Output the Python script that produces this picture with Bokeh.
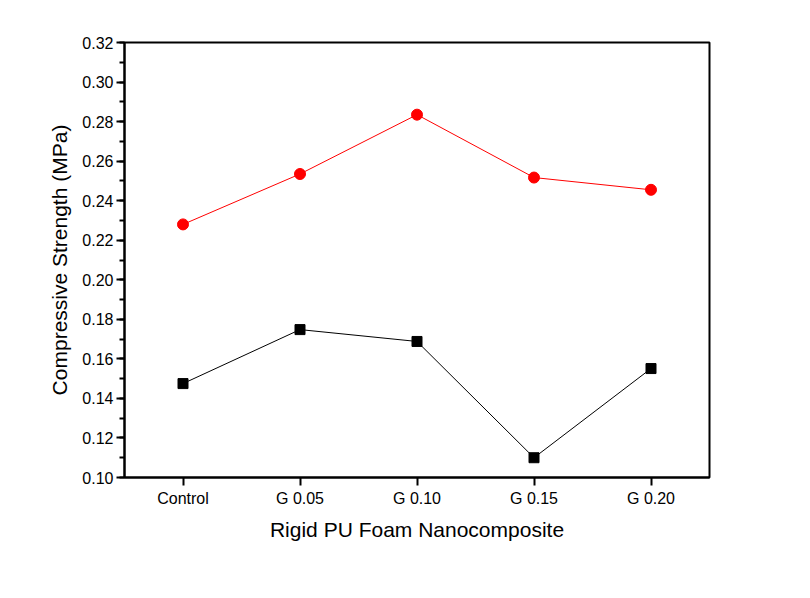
from bokeh.plotting import figure
from bokeh.models import FixedTicker, SingleIntervalTicker, NumeralTickFormatter, Range1d
from bokeh.embed import file_html
from bokeh.resources import INLINE

categories = ["Control", "G 0.05", "G 0.10", "G 0.15", "G 0.20"]
series_red = [0.228, 0.2535, 0.2835, 0.2517, 0.2455]
series_black = [0.1475, 0.1748, 0.1688, 0.110, 0.1551]
y_ticks = [0.10, 0.12, 0.14, 0.16, 0.18, 0.20, 0.22, 0.24, 0.26, 0.28, 0.30, 0.32]

xs = list(range(1, len(categories) + 1))

p = figure(width=810, height=598, output_backend="svg", toolbar_location=None,
           x_range=Range1d(0.5, 5.5), y_range=Range1d(0.10, 0.32),
           min_border_left=124, min_border_right=101, min_border_top=42, min_border_bottom=121)
p.grid.visible = False
p.outline_line_color = "black"
p.outline_line_width = 2
p.background_fill_color = "white"
p.border_fill_color = "white"

p.line(xs, series_black, line_color="black", line_width=1)
p.scatter(xs, series_black, marker="square", size=10, fill_color="black", line_color="black")
p.line(xs, series_red, line_color="red", line_width=1)
p.scatter(xs, series_red, marker="circle", size=11, fill_color="red", line_color="red")

font = "Liberation Sans"
p.xaxis.ticker = FixedTicker(ticks=xs)
p.xaxis.major_label_overrides = {x: c for x, c in zip(xs, categories)}
p.yaxis.ticker = SingleIntervalTicker(interval=0.02, num_minor_ticks=2)
p.yaxis.formatter = NumeralTickFormatter(format="0.00")

for ax in (p.xaxis, p.yaxis):
    ax.axis_line_width = 2
    ax.major_tick_line_width = 2
    ax.minor_tick_line_width = 2
    ax.major_tick_in = 0
    ax.major_tick_out = 8
    ax.minor_tick_in = 0
    ax.minor_tick_out = 5
    ax.major_label_text_font = font
    ax.major_label_text_font_size = "16px"
    ax.major_label_text_color = "black"
    ax.axis_label_text_font = font
    ax.axis_label_text_font_size = "21px"
    ax.axis_label_text_font_style = "normal"
    ax.axis_label_text_color = "black"

p.xaxis.minor_tick_line_color = None
p.xaxis.major_label_standoff = 4
p.yaxis.major_label_standoff = 3
p.xaxis.axis_label = "Rigid PU Foam Nanocomposite"
p.yaxis.axis_label = "Compressive Strength (MPa)"
p.xaxis.axis_label_standoff = 8
p.yaxis.axis_label_standoff = 8

open("out.html", "w").write(file_html(p, INLINE))
